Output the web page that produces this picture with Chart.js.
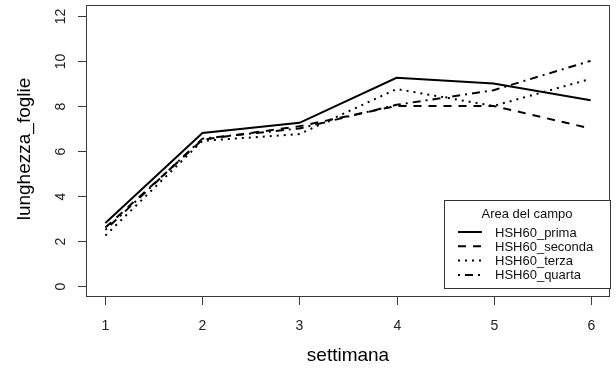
<!DOCTYPE html>
<html><head><meta charset="utf-8">
<script src="https://cdn.jsdelivr.net/npm/chart.js@4.4.1/dist/chart.umd.min.js"></script>
<style>html,body{margin:0;padding:0;background:#fff}#wrap{width:616px;height:377px}</style>
</head><body><div id="wrap"><canvas id="c" width="616" height="377"></canvas></div>
<script>
const weeks = [1, 2, 3, 4, 5, 6];
const prima   = [2.8, 6.8, 7.25, 9.25, 9.0, 8.25];
const seconda = [2.6, 6.5, 7.1, 8.0, 8.0, 7.0];
const terza   = [2.25, 6.45, 6.75, 8.75, 8.0, 9.2];
const quarta  = [2.5, 6.55, 7.0, 8.05, 8.7, 10.0];
const yTicks = [0, 2, 4, 6, 8, 10, 12];
const seriesNames = ['HSH60_prima', 'HSH60_seconda', 'HSH60_terza', 'HSH60_quarta'];
const xTitle = 'settimana';
const yTitle = 'lunghezza_foglie';
const legendTitle = 'Area del campo';

const dashes = [[], [8, 7], [2, 5], [2, 5, 8, 5]];
const seriesVals = [prima, seconda, terza, quarta];
const FONT = '"Liberation Sans", Arial, sans-serif';

const datasets = seriesVals.map((vals, i) => ({
  label: seriesNames[i],
  data: weeks.map((w, j) => ({x: w, y: vals[j]})),
  borderColor: '#000', borderWidth: 2, borderDash: dashes[i],
  pointRadius: 0, tension: 0, fill: false
}));

const rPlot = {
  id: 'rplot',
  afterDraw(chart) {
    const ctx = chart.ctx, a = chart.chartArea;
    const xs = chart.scales.x, ys = chart.scales.y;
    ctx.save();
    ctx.strokeStyle = '#3a3a3a'; ctx.lineWidth = 1;
    ctx.strokeRect(a.left + 0.5, a.top + 0.5, a.right - a.left - 1, a.bottom - a.top - 1);
    ctx.fillStyle = '#222';
    ctx.font = '14px ' + FONT;
    ctx.textAlign = 'center'; ctx.textBaseline = 'middle';
    weeks.forEach(w => {
      const px = Math.round(xs.getPixelForValue(w)) + 0.5;
      ctx.beginPath(); ctx.moveTo(px, a.bottom); ctx.lineTo(px, a.bottom + 8); ctx.stroke();
      ctx.fillText(String(w), px, a.bottom + 29);
    });
    yTicks.forEach(v => {
      const py = Math.round(ys.getPixelForValue(v)) + 0.5;
      ctx.beginPath(); ctx.moveTo(a.left, py); ctx.lineTo(a.left - 8, py); ctx.stroke();
      ctx.save(); ctx.translate(a.left - 25, py); ctx.rotate(-Math.PI / 2);
      ctx.fillText(String(v), 0, 0); ctx.restore();
    });
    ctx.fillStyle = '#000';
    ctx.font = '19px ' + FONT;
    ctx.fillText(xTitle, (a.left + a.right) / 2, a.bottom + 59);
    ctx.save(); ctx.translate(25, (a.top + a.bottom) / 2 - 2); ctx.rotate(-Math.PI / 2);
    ctx.fillText(yTitle, 0, 0); ctx.restore();

    // legend box
    const L = 444, T = 200, W = 166, H = 88;
    ctx.fillStyle = '#fff'; ctx.fillRect(L, T, W, H);
    ctx.strokeStyle = '#333'; ctx.strokeRect(L + 0.5, T + 0.5, W, H);
    ctx.fillStyle = '#111'; ctx.font = '13px ' + FONT;
    ctx.fillText(legendTitle, L + W / 2, T + 14);
    ctx.textAlign = 'left';
    chart.data.datasets.forEach((ds, i) => {
      const y = T + 32 + i * 14.3;
      ctx.save(); ctx.strokeStyle = '#000'; ctx.lineWidth = 2; ctx.setLineDash(ds.borderDash);
      ctx.beginPath(); ctx.moveTo(L + 14, y); ctx.lineTo(L + 38, y); ctx.stroke(); ctx.restore();
      ctx.fillText(ds.label, L + 51, y + 1);
    });
    ctx.restore();
  }
};

new Chart(document.getElementById('c'), {
  type: 'line',
  data: { datasets },
  options: {
    responsive: false, animation: false, devicePixelRatio: 1,
    layout: { padding: { top: 5, right: 6, left: 0, bottom: 0 } },
    plugins: { legend: { display: false }, tooltip: { enabled: false } },
    scales: {
      x: { type: 'linear', min: 0.8, max: 6.2, grid: { display: false }, border: { display: false },
           ticks: { display: false }, afterFit: s => { s.height = 80; } },
      y: { type: 'linear', min: -0.48, max: 12.48, grid: { display: false }, border: { display: false },
           ticks: { display: false }, afterFit: s => { s.width = 86; } }
    }
  },
  plugins: [rPlot]
});
</script></body></html>
